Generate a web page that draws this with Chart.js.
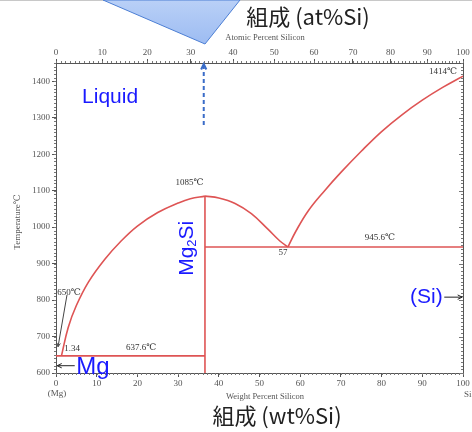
<!DOCTYPE html>
<html>
<head>
<meta charset="utf-8">
<title>Mg-Si 状態図</title>
<script src="https://cdn.jsdelivr.net/npm/chart.js"></script>
<style>
    html, body { margin: 0; padding: 0; background: #fff; }
    #wrap { position: relative; width: 472px; height: 432px; overflow: hidden; }
    #chart { position: absolute; left: 0; top: 0; }
    #callout { position: absolute; left: 0; top: 0; }
</style>
</head>
<body>
<div id="wrap">
    <canvas id="chart" width="472" height="432"></canvas>
    <svg id="callout" width="472" height="50">
        <defs>
            <linearGradient id="cg" x1="0" y1="0" x2="0" y2="1">
                <stop offset="0" stop-color="#b9d0f7"/>
                <stop offset="1" stop-color="#9dbcf2"/>
            </linearGradient>
        </defs>
        <line x1="0" y1="0.5" x2="472" y2="0.5" stroke="#c8c8c8" stroke-width="1"/>
        <polygon points="103,0 205,44 240,0" fill="url(#cg)" stroke="#4d7fd4" stroke-width="1"/>
    </svg>
</div>

<script>
const liqLeftWt  = [1.34, 3, 5, 8, 12, 16, 20, 25, 30, 33, 36.6];
const liqLeftT   = [647, 725, 785, 850, 912, 962, 1003, 1040, 1066, 1078, 1085];

const liqMidWt   = [36.6, 40, 44, 48, 52, 55, 57];
const liqMidT    = [1085, 1080, 1065, 1037, 995, 962, 945.6];

const liqRightWt = [57, 59, 62, 66, 70, 75, 80, 85, 90, 95, 100];
const liqRightT  = [945.6, 990, 1045, 1100, 1150, 1208, 1262, 1308, 1348, 1383, 1414];

const eutLowWt   = [0, 36.6];
const eutLowT    = [647, 647];
const eutHighWt  = [36.6, 100];
const eutHighT   = [945.6, 945.6];
const mg2siWt    = [36.6, 36.6];
const mg2siT     = [600, 1085];

// ejes
const wtTicks = [0, 10, 20, 30, 40, 50, 60, 70, 80, 90, 100];
const atTicks = [0, 10, 20, 30, 40, 50, 60, 70, 80, 90, 100];
const tempTicks = [600, 700, 800, 900, 1000, 1100, 1200, 1300, 1400];

// masas atómicas para convertir at% -> wt%
const M_SI = 28.086, M_MG = 24.305;
function atToWt(a) {
    return 100 * a * M_SI / (a * M_SI + (100 - a) * M_MG);
}

function pts(xs, ys) {
    return xs.map((x, i) => ({ x: x, y: ys[i] }));
}

const RED = 'rgb(222, 84, 84)';
const BLUE = '#1a1aff';
const GREY = '#555';
const SERIF = '"Liberation Serif", "DejaVu Serif", serif';
const SANS = '"Liberation Sans", Arial, sans-serif';
const CJK = '"Noto Sans CJK JP", "Noto Sans", sans-serif';

function redLine(xs, ys, smooth) {
    return {
        data: pts(xs, ys),
        borderColor: RED,
        borderWidth: 1.6,
        pointRadius: 0,
        showLine: true,
        fill: false,
        tension: smooth ? 0.4 : 0
    };
}

function arrow(ctx, x1, y1, x2, y2, color, width, dash, head) {
    ctx.save();
    ctx.strokeStyle = color;
    ctx.fillStyle = color;
    ctx.lineWidth = width;
    ctx.setLineDash(dash || []);
    ctx.beginPath();
    ctx.moveTo(x1, y1);
    ctx.lineTo(x2, y2);
    ctx.stroke();
    ctx.setLineDash([]);
    const a = Math.atan2(y2 - y1, x2 - x1);
    ctx.beginPath();
    ctx.moveTo(x2 - head * Math.cos(a - 0.45), y2 - head * Math.sin(a - 0.45));
    ctx.lineTo(x2, y2);
    ctx.lineTo(x2 - head * Math.cos(a + 0.45), y2 - head * Math.sin(a + 0.45));
    ctx.stroke();
    ctx.restore();
}

// textos, ticks menores y flechas
const extras = {
    id: 'extras',
    afterDraw(chart) {
        const ctx = chart.ctx;
        const x = chart.scales.x, y = chart.scales.y;
        const a = chart.chartArea;
        const px = v => x.getPixelForValue(v);
        const py = v => y.getPixelForValue(v);

        ctx.save();
        // ticks menores
        ctx.strokeStyle = '#777';
        ctx.lineWidth = 1;
        ctx.beginPath();
        for (let w = 0; w <= 100; w += 1) {
            const X = Math.round(px(w)) + 0.5;
            ctx.moveTo(X, a.bottom); ctx.lineTo(X, a.bottom + 2);
        }
        for (let at = 0; at <= 100; at += 1) {
            const X = Math.round(px(atToWt(at))) + 0.5;
            ctx.moveTo(X, a.top); ctx.lineTo(X, a.top - 2);
        }
        for (let t = 600; t <= 1450; t += 10) {
            const Y = Math.round(py(t)) + 0.5;
            ctx.moveTo(a.left, Y); ctx.lineTo(a.left - 2, Y);
            ctx.moveTo(a.right, Y); ctx.lineTo(a.right - 2, Y);
        }
        // ticks mayores del eje derecho
        tempTicks.forEach(t => {
            const Y = Math.round(py(t)) + 0.5;
            ctx.moveTo(a.right, Y); ctx.lineTo(a.right - 4, Y);
        });
        ctx.stroke();

        // títulos
        ctx.fillStyle = '#222';
        ctx.textAlign = 'center';
        ctx.textBaseline = 'middle';
        ctx.font = '22px ' + CJK;
        ctx.fillText('組成 (at%Si)', 308, 17);
        ctx.fillText('組成 (wt%Si)', 277, 416);

        ctx.fillStyle = GREY;
        ctx.font = '8.5px ' + SERIF;
        ctx.fillText('Atomic Percent Silicon', 265, 38);
        ctx.fillText('Weight Percent Silicon', 265, 397);
        ctx.font = '9px ' + SERIF;
        ctx.fillText('(Mg)', px(0) + 1, 394);
        ctx.textAlign = 'left';
        ctx.fillText('Si', px(100) + 1, 395);

        ctx.save();
        ctx.translate(18, 222);
        ctx.rotate(-Math.PI / 2);
        ctx.textAlign = 'center';
        ctx.fillText('Temperature℃', 0, 0);
        ctx.restore();

        // anotaciones del diagrama
        ctx.fillStyle = '#333';
        ctx.font = '9px ' + SERIF;
        ctx.textAlign = 'left';
        ctx.fillText('650℃', px(0.3), py(820));
        ctx.fillText('1.34', px(2.0), py(666));
        ctx.textAlign = 'center';
        ctx.fillText('637.6℃', px(20.9), py(669));
        ctx.fillText('1085℃', px(32.8), py(1121));
        ctx.fillText('57', px(55.8), py(929));
        ctx.fillText('945.6℃', px(79.6), py(970));
        ctx.fillText('1414℃', px(95.1), py(1425));

        // flecha 650℃
        arrow(ctx, px(2.7), py(814), px(0.5), py(672), '#444', 1, null, 4);

        // flecha azul punteada hacia el eje superior
        arrow(ctx, px(36.3), py(1280), px(36.3), py(1447), '#3a6cc8', 2, [4, 3], 6);

        // etiquetas azules
        ctx.fillStyle = BLUE;
        ctx.font = '21px ' + SANS;
        ctx.textAlign = 'left';
        ctx.fillText('Liquid', px(6.4), py(1356));

        ctx.textAlign = 'right';
        ctx.fillText('(Si)', px(95.0), py(808));
        arrow(ctx, px(95.4), py(808), px(99.8), py(808), '#222', 1, null, 5);

        ctx.font = '24px ' + SANS;
        ctx.textAlign = 'left';
        ctx.fillText('Mg', px(5.0), py(616));
        arrow(ctx, px(4.6), py(620), px(0.3), py(620), '#222', 1, null, 5);

        // Mg2Si vertical
        ctx.save();
        ctx.translate(px(32.3), py(942));
        ctx.rotate(-Math.PI / 2);
        ctx.font = '21px ' + SANS;
        const w1 = ctx.measureText('Mg').width;
        ctx.font = '13px ' + SANS;
        const w2 = ctx.measureText('2').width;
        ctx.font = '21px ' + SANS;
        const w3 = ctx.measureText('Si').width;
        let sx = -(w1 + w2 + w3) / 2;
        ctx.textAlign = 'left';
        ctx.fillText('Mg', sx, 0);
        ctx.font = '13px ' + SANS;
        ctx.fillText('2', sx + w1, 5);
        ctx.font = '21px ' + SANS;
        ctx.fillText('Si', sx + w1 + w2, 0);
        ctx.restore();

        ctx.restore();
    }
};

const tickFont = { family: SERIF, size: 9 };

const chart = new Chart(document.getElementById('chart').getContext('2d'), {
    type: 'scatter',
    data: {
        datasets: [
            redLine(liqLeftWt, liqLeftT, true),
            redLine(liqMidWt, liqMidT, true),
            redLine(liqRightWt, liqRightT, true),
            redLine(eutLowWt, eutLowT, false),
            redLine(eutHighWt, eutHighT, false),
            redLine(mg2siWt, mg2siT, false)
        ]
    },
    options: {
        responsive: false,
        animation: false,
        layout: { padding: 0 },
        plugins: { legend: { display: false }, tooltip: { enabled: false } },
        scales: {
            x: {
                type: 'linear', position: 'bottom', min: 0, max: 100,
                afterBuildTicks: s => { s.ticks = wtTicks.map(v => ({ value: v })); },
                afterFit: s => { s.height = 59; },
                ticks: { color: GREY, font: tickFont, padding: 1, maxRotation: 0, autoSkip: false,
                         callback: v => String(v) },
                grid: { drawOnChartArea: false, tickLength: 4, color: GREY },
                border: { color: GREY }
            },
            xTop: {
                type: 'linear', position: 'top', min: 0, max: 100,
                afterBuildTicks: s => { s.ticks = atTicks.map(v => ({ value: atToWt(v) })); },
                afterFit: s => { s.height = 63; },
                ticks: {
                    color: GREY, font: tickFont, padding: 1, maxRotation: 0, autoSkip: false,
                    callback: (v, i) => String(atTicks[i])
                },
                grid: { drawOnChartArea: false, tickLength: 4, color: GREY },
                border: { color: GREY }
            },
            y: {
                type: 'linear', position: 'left', min: 600, max: 1450,
                afterBuildTicks: s => { s.ticks = tempTicks.map(v => ({ value: v })); },
                afterFit: s => { s.width = 56; },
                ticks: { color: GREY, font: tickFont, padding: 2, callback: v => String(v) },
                grid: { drawOnChartArea: false, tickLength: 4, color: GREY },
                border: { color: GREY }
            },
            yRight: {
                type: 'linear', position: 'right', min: 600, max: 1450,
                afterFit: s => { s.width = 9; },
                ticks: { display: false },
                grid: { display: false },
                border: { color: GREY }
            }
        }
    },
    plugins: [extras]
});
</script>
</body>
</html>
